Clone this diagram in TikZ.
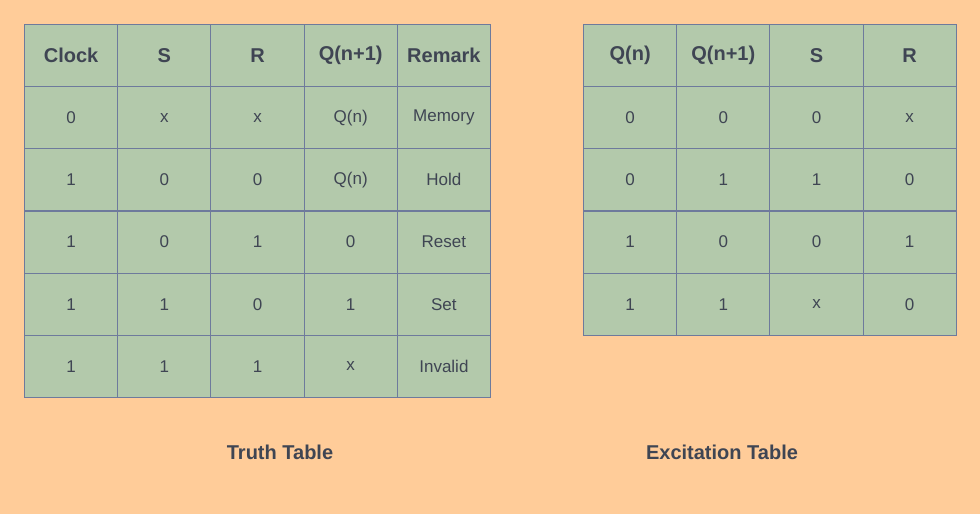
\documentclass[tikz,border=0pt]{standalone}
\usepackage{fontspec}
\setmainfont{Liberation Sans}
\definecolor{bg}{RGB}{255,204,153}
\definecolor{cellc}{RGB}{179,201,171}
\definecolor{linec}{RGB}{110,122,156}
\definecolor{txt}{RGB}{63,69,83}
\begin{document}
\begin{tikzpicture}[x=1pt,y=-1pt,
  cell/.style={draw=linec,fill=cellc,line width=1pt,minimum width=93.2pt,minimum height=62pt,inner sep=0pt,text=txt,font=\fontsize{17}{17}\selectfont,anchor=north west},
  head/.style={cell,font=\fontsize{20}{20}\selectfont\bfseries},
  title/.style={text=txt,font=\fontsize{20}{20}\selectfont\bfseries}]
\fill[bg] (0,0) rectangle (980,514);
\useasboundingbox (0,0) rectangle (980,514);
% Truth table
\foreach \t [count=\i from 0] in {Clock,S,R,Q(n+1),Remark}
  \node[head] (th\i) at (24+93.2*\i,24) {\t};
\foreach \r [count=\j from 1] in {{0,x,x,Q(n),Memory},{1,0,0,Q(n),Hold},{1,0,1,0,Reset},{1,1,0,1,Set},{1,1,1,x,Invalid}}
  \foreach \t [count=\i from 0] in \r
    \node[cell] (t\j-\i) at (24+93.2*\i,24+62.2*\j) {\t};
% Excitation table
\foreach \t [count=\i from 0] in {Q(n),Q(n+1),S,R}
  \node[head] (eh\i) at (583+93.2*\i,24) {\t};
\foreach \r [count=\j from 1] in {{0,0,0,x},{0,1,1,0},{1,0,0,1},{1,1,x,0}}
  \foreach \t [count=\i from 0] in \r
    \node[cell] (e\j-\i) at (583+93.2*\i,24+62.2*\j) {\t};
\node[title] (tt) at (280,452) {Truth Table};
\node[title] (et) at (722,452) {Excitation Table};
\end{tikzpicture}
\end{document}
